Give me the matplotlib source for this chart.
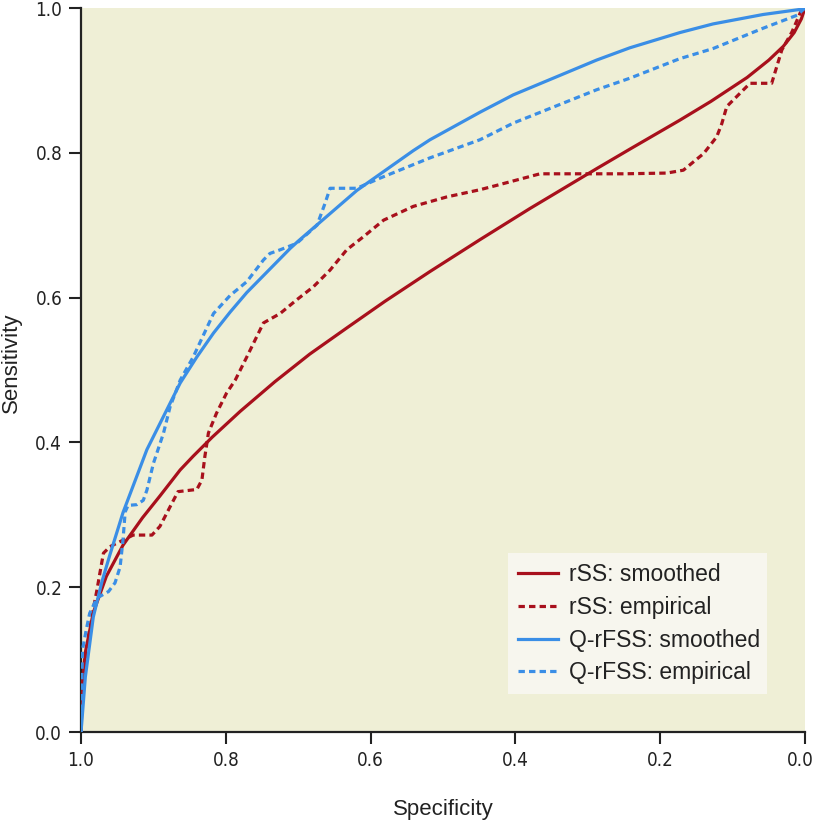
import matplotlib
matplotlib.use("Agg")
import matplotlib.pyplot as plt
from matplotlib import font_manager
from matplotlib.patches import Rectangle
from matplotlib.transforms import ScaledTranslation

# ---------------- data ----------------
rss_smooth_spec = [1.0, 0.999, 0.994, 0.983, 0.965, 0.942, 0.915, 0.891, 0.863, 0.845, 0.819, 0.780,
                   0.732, 0.684, 0.633, 0.580, 0.518, 0.449, 0.380, 0.288, 0.242, 0.173, 0.130,
                   0.080, 0.050, 0.030, 0.015, 0.005, 0.0]
rss_smooth_sens = [0.0, 0.060, 0.110, 0.165, 0.215, 0.258, 0.296, 0.326, 0.362, 0.381, 0.407, 0.443,
                   0.484, 0.522, 0.558, 0.595, 0.636, 0.680, 0.723, 0.778, 0.805, 0.845, 0.871,
                   0.904, 0.928, 0.947, 0.966, 0.985, 1.0]

rss_emp_spec = [1.0, 0.999, 0.997, 0.990, 0.983, 0.978, 0.974, 0.969, 0.960, 0.942, 0.928, 0.902, 0.891,
                0.877, 0.866, 0.840, 0.833, 0.829, 0.824, 0.813, 0.799, 0.787, 0.771, 0.748, 0.725,
                0.702, 0.679, 0.656, 0.633, 0.610, 0.582, 0.541, 0.495, 0.449, 0.426, 0.366, 0.300,
                0.250, 0.191, 0.168, 0.140, 0.122, 0.115, 0.108, 0.090, 0.076, 0.046, 0.039, 0.032,
                0.018, 0.011, 0.005, 0.0]
rss_emp_sens = [0.0, 0.030, 0.070, 0.130, 0.170, 0.196, 0.219, 0.247, 0.256, 0.265, 0.272, 0.272, 0.284,
                0.311, 0.332, 0.335, 0.348, 0.380, 0.413, 0.440, 0.468, 0.486, 0.518, 0.565, 0.578,
                0.597, 0.615, 0.638, 0.666, 0.684, 0.707, 0.726, 0.739, 0.749, 0.755, 0.771, 0.771,
                0.771, 0.772, 0.776, 0.799, 0.822, 0.840, 0.864, 0.882, 0.896, 0.896, 0.919, 0.942,
                0.967, 0.983, 0.997, 1.0]

qr_smooth_spec = [1.0, 0.999, 0.994, 0.983, 0.971, 0.960, 0.942, 0.909, 0.885, 0.863, 0.840, 0.817,
                  0.794, 0.771, 0.711, 0.700, 0.619, 0.541, 0.518, 0.449, 0.403, 0.288, 0.242,
                  0.173, 0.127, 0.058, 0.007, 0.0]
qr_smooth_sens = [0.0, 0.012, 0.076, 0.159, 0.208, 0.245, 0.303, 0.390, 0.438, 0.482, 0.518, 0.551,
                  0.580, 0.607, 0.668, 0.678, 0.748, 0.803, 0.818, 0.856, 0.880, 0.928, 0.945,
                  0.966, 0.978, 0.991, 0.998, 1.0]

qr_emp_spec = [1.0, 0.999, 0.998, 0.993, 0.988, 0.978, 0.962, 0.953, 0.946, 0.942, 0.939, 0.935, 0.923,
               0.914, 0.909, 0.900, 0.886, 0.877, 0.863, 0.845, 0.817, 0.794, 0.771, 0.748, 0.739,
               0.725, 0.702, 0.674, 0.663, 0.656, 0.619, 0.587, 0.518, 0.449, 0.403, 0.288, 0.242,
               0.173, 0.127, 0.058, 0.011, 0.0]
qr_emp_sens = [0.0, 0.060, 0.113, 0.140, 0.164, 0.185, 0.194, 0.206, 0.228, 0.265, 0.304, 0.313, 0.314,
               0.320, 0.334, 0.371, 0.413, 0.449, 0.486, 0.518, 0.578, 0.603, 0.622, 0.652, 0.661,
               0.666, 0.675, 0.700, 0.730, 0.751, 0.751, 0.765, 0.793, 0.818, 0.841, 0.887, 0.903,
               0.930, 0.944, 0.972, 0.990, 1.0]

ticks = [0.0, 0.2, 0.4, 0.6, 0.8, 1.0]
tick_labels = ["0.0", "0.2", "0.4", "0.6", "0.8", "1.0"]
legend_labels = ["rSS: smoothed", "rSS: empirical", "Q-rFSS: smoothed", "Q-rFSS: empirical"]

# ---------------- style ----------------
plt.rcParams["font.family"] = ["Liberation Sans", "DejaVu Sans"]

flist = font_manager.fontManager.ttflist
names = {f.name for f in flist}
if "Liberation Sans Narrow" in names:
    tick_font = dict(family=["Liberation Sans Narrow", "DejaVu Sans"], fontsize=14.5)
elif any(f.name == "DejaVu Sans" and f.stretch == "condensed" for f in flist):
    tick_font = dict(family=["DejaVu Sans"], fontstretch="condensed", fontsize=13.5)
else:
    tick_font = dict(family=["Liberation Sans", "DejaVu Sans"], fontsize=12.5)

RED = "#a8101c"
BLUE = "#3a8ee6"
BG = "#efefd6"
LEGBG = "#f7f6ee"
AX = "#222222"

fig = plt.figure(figsize=(8.15, 8.26), dpi=100)
ax = fig.add_axes([81 / 815, 94 / 826, 724 / 815, 724 / 826])
ax.set_facecolor(BG)

lw = 2.3
dash = (0, (2.0, 1.3))
ax.plot(rss_smooth_spec, rss_smooth_sens, color=RED, lw=lw, solid_joinstyle="round",
        label=legend_labels[0], zorder=3)
ax.plot(rss_emp_spec, rss_emp_sens, color=RED, lw=lw, linestyle=dash,
        label=legend_labels[1], zorder=3)
ax.plot(qr_smooth_spec, qr_smooth_sens, color=BLUE, lw=lw, solid_joinstyle="round",
        label=legend_labels[2], zorder=3)
ax.plot(qr_emp_spec, qr_emp_sens, color=BLUE, lw=lw, linestyle=dash,
        label=legend_labels[3], zorder=3)

ax.set_xlim(1.0, 0.0)
ax.set_ylim(0.0, 1.0)
ax.set_xticks(ticks)
ax.set_xticklabels(tick_labels)
ax.set_yticks(ticks)
ax.set_yticklabels(tick_labels)

for s in ["top", "right"]:
    ax.spines[s].set_visible(False)
for s in ["left", "bottom"]:
    ax.spines[s].set_color(AX)
    ax.spines[s].set_linewidth(1.6)
ax.tick_params(axis="both", direction="out", length=8.5, width=1.5, color=AX,
               labelcolor="#222222")
ax.tick_params(axis="y", pad=5)
ax.tick_params(axis="x", pad=5.5)
for lab in ax.get_xticklabels() + ax.get_yticklabels():
    lab.set_family(tick_font["family"])
    lab.set_fontsize(tick_font["fontsize"])
    if "fontstretch" in tick_font:
        lab.set_fontstretch(tick_font["fontstretch"])

# keep the right-most x tick label inside the canvas
xl = ax.get_xticklabels()
for lab in xl:
    if lab.get_text() == "0.0":
        lab.set_transform(lab.get_transform() + ScaledTranslation(-5 / 100, 0, fig.dpi_scale_trans))

ax.set_xlabel("Specificity", fontsize=16, color="#222222")
ax.set_ylabel("Sensitivity", fontsize=16, color="#222222")
ax.xaxis.set_label_coords(0.5, (732 - 799) / 724)
ax.yaxis.set_label_coords((22 - 81) / 724, 0.51)

# legend background box
ax.add_patch(Rectangle(((508 - 81) / 724, (732 - 694) / 724), (767 - 508) / 724, (694 - 553) / 724,
                       transform=ax.transAxes, facecolor=LEGBG, edgecolor="none", zorder=4))
leg = ax.legend(loc="upper left", bbox_to_anchor=((508 - 81) / 724, (732 - 553) / 724),
                borderaxespad=0, frameon=False, fontsize=16.5, handlelength=1.75,
                handletextpad=0.47, labelspacing=0.42, borderpad=0.45)
leg.set_zorder(5)
for t in leg.get_texts():
    t.set_color("#222222")

fig.savefig("out.png", dpi=100)
